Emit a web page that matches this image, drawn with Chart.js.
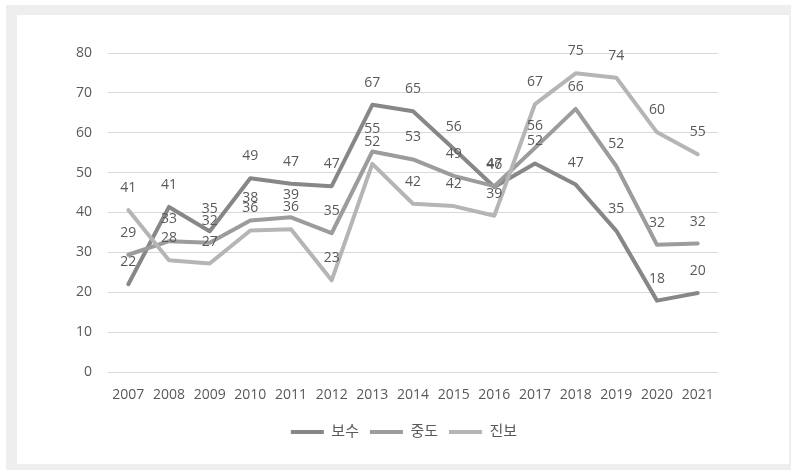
<!DOCTYPE html>
<html>
<head>
<meta charset="utf-8">
<script src="https://cdn.jsdelivr.net/npm/chart.js@4.4.1/dist/chart.umd.min.js"></script>
<style>
  html, body { margin: 0; padding: 0; background: #ffffff; }
  #wrap { position: relative; width: 791px; height: 470px; overflow: hidden; }
  #frame { position: absolute; left: 6px; top: 5px; width: 785px; height: 465px; background: #eeeeee; }
  #inner { position: absolute; left: 17px; top: 15px; width: 772px; height: 449px; background: #ffffff; }
  #c { position: absolute; left: 0; top: 0; }
</style>
</head>
<body>
<div id="wrap">
  <div id="frame"></div>
  <div id="inner"></div>
  <canvas id="c" width="791" height="470"></canvas>
</div>
<script>
const years = ['2007','2008','2009','2010','2011','2012','2013','2014','2015','2016','2017','2018','2019','2020','2021'];
const conservative = [22, 41.4, 35.3, 48.6, 47.2, 46.6, 67, 65.4, 56, 46.4, 52.3, 47, 35.4, 17.9, 19.8];
const moderate     = [29.4, 32.8, 32.4, 38, 38.8, 34.8, 55.3, 53.3, 49.2, 46.6, 56.2, 66, 51.6, 31.9, 32.2];
const progressive  = [40.6, 28, 27.2, 35.5, 35.8, 23, 52.2, 42.2, 41.6, 39.2, 67.2, 74.9, 73.8, 60.1, 54.6];
const seriesNames = ['보수', '중도', '진보'];
const yTicks = [0, 10, 20, 30, 40, 50, 60, 70, 80];

const textColor = '#595959';
const fontFamily = '"Open Sans", "Noto Sans CJK KR", sans-serif';

const dataLabels = {
  id: 'dataLabels',
  afterDatasetsDraw(chart) {
    const ctx = chart.ctx;
    ctx.save();
    ctx.font = '14px ' + fontFamily;
    ctx.fillStyle = textColor;
    ctx.textAlign = 'center';
    ctx.textBaseline = 'middle';
    chart.data.datasets.forEach((ds, di) => {
      const meta = chart.getDatasetMeta(di);
      meta.data.forEach((pt, i) => {
        ctx.fillText(String(Math.round(ds.data[i])), pt.x, pt.y - 22);
      });
    });
    ctx.restore();
  }
};

const legendShift = {
  id: 'legendShift',
  afterLayout(chart) {
    if (chart.legend) { chart.legend.left += 11; chart.legend.right += 11; }
  }
};

new Chart(document.getElementById('c'), {
  type: 'line',
  data: {
    labels: years,
    datasets: [
      { label: seriesNames[0], data: conservative, borderColor: '#878787', backgroundColor: '#878787', order: 3 },
      { label: seriesNames[1], data: moderate, borderColor: '#9c9c9c', backgroundColor: '#9c9c9c', order: 2 },
      { label: seriesNames[2], data: progressive, borderColor: '#b5b5b5', backgroundColor: '#b5b5b5', order: 1 }
    ]
  },
  options: {
    responsive: false,
    animation: false,
    devicePixelRatio: 1,
    elements: {
      line: { borderWidth: 4, tension: 0, borderCapStyle: 'round', borderJoinStyle: 'round' },
      point: { radius: 0, hoverRadius: 0 }
    },
    layout: { padding: { left: 68, right: 73, top: 53, bottom: 20.5 } },
    scales: {
      x: {
        offset: true,
        grid: { display: false, offset: true },
        border: { display: false },
        ticks: { color: textColor, font: { size: 14, family: fontFamily }, padding: 7, maxRotation: 0, autoSkip: false },
        afterFit(scale) { scale.height = 41.5; }
      },
      y: {
        min: 0, max: 80,
        afterBuildTicks(scale) { scale.ticks = yTicks.map(v => ({ value: v })); },
        grid: { color: '#d9d9d9', lineWidth: 1, drawTicks: false },
        border: { display: false },
        ticks: { color: textColor, font: { size: 14, family: fontFamily }, padding: 16 },
        afterFit(scale) { scale.width = 40; }
      }
    },
    plugins: {
      tooltip: { enabled: false },
      legend: {
        position: 'bottom',
        labels: {
          boxWidth: 33,
          boxHeight: 4,
          padding: 11,
          color: textColor,
          font: { size: 15, family: fontFamily },
          sort: (a, b) => a.datasetIndex - b.datasetIndex,
          generateLabels(chart) {
            const items = Chart.defaults.plugins.legend.labels.generateLabels(chart);
            items.forEach(it => { it.lineWidth = 0; });
            return items;
          }
        }
      }
    }
  },
  plugins: [dataLabels, legendShift]
});
</script>
</body>
</html>
